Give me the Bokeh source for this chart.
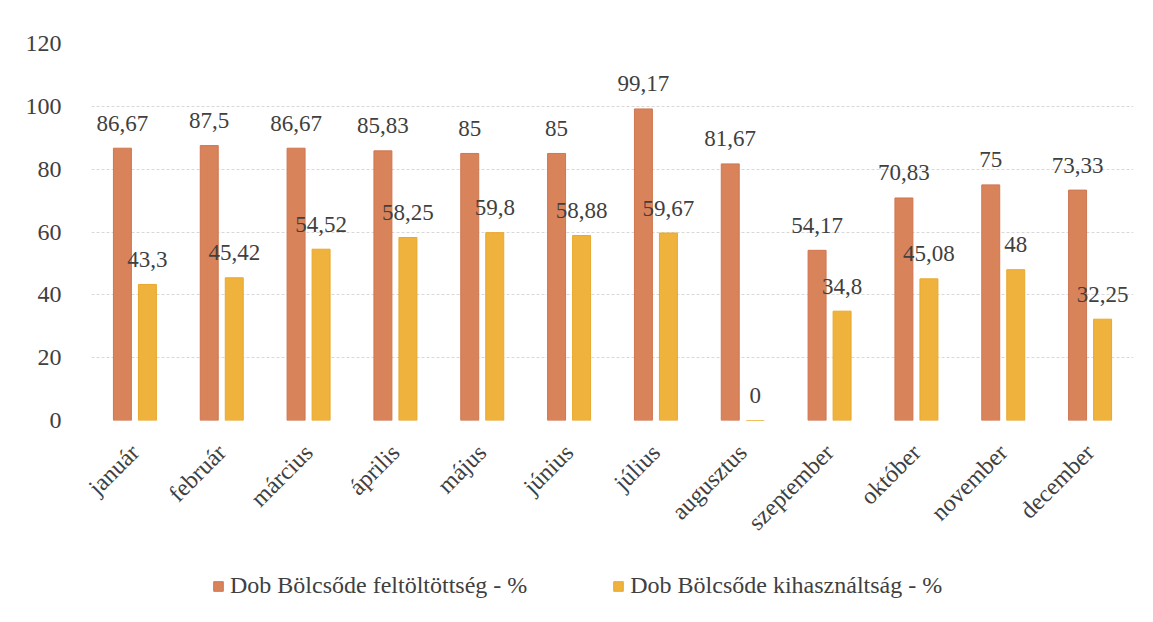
from bokeh.plotting import figure
from bokeh.models import ColumnDataSource, Range1d, FactorRange, Legend, LegendItem
from bokeh.transform import dodge
from bokeh.layouts import column
from bokeh.embed import file_html
from bokeh.resources import INLINE
import math

months = ["január", "február", "március", "április", "május", "június",
          "július", "augusztus", "szeptember", "október", "november", "december"]
feltoltottseg = [86.67, 87.5, 86.67, 85.83, 85, 85, 99.17, 81.67, 54.17, 70.83, 75, 73.33]
kihasznaltsag = [43.3, 45.42, 54.52, 58.25, 59.8, 58.88, 59.67, 0, 34.8, 45.08, 48, 32.25]
series_names = ["Dob Bölcsőde feltöltöttség - %", "Dob Bölcsőde kihasználtság - %"]
y_ticks = [0, 20, 40, 60, 80, 100, 120]

C1 = "#D9835B"
C2 = "#EFB23C"
TXT = "#404040"
FONT = "Liberation Serif"

def fmt(v):
    return f"{v:g}".replace(".", ",")

src = ColumnDataSource(dict(
    m=months, a=feltoltottseg, b=kihasznaltsag,
    la=[fmt(v) for v in feltoltottseg], lb=[fmt(v) for v in kihasznaltsag],
))

p = figure(frame_width=1042, frame_height=377, x_range=FactorRange(*months), y_range=Range1d(0, 120),
           output_backend="svg", toolbar_location=None,
           min_border_left=91, min_border_right=10, min_border_top=43, min_border_bottom=0)
p.outline_line_color = None
p.background_fill_color = "white"

p.vbar(x=dodge("m", -0.144, range=p.x_range), top="a", width=0.207, source=src,
       fill_color=C1, line_color="#CF7650", line_width=1)
p.vbar(x=dodge("m", 0.144, range=p.x_range), top="b", width=0.207, source=src,
       fill_color=C2, line_color="#E9A82E", line_width=1)

p.text(x=dodge("m", -0.144, range=p.x_range), y="a", text="la", source=src,
       text_align="center", text_baseline="alphabetic", y_offset=-25,
       text_font=FONT, text_font_size="23px", text_color=TXT)
p.text(x=dodge("m", 0.144, range=p.x_range), y="b", text="lb", source=src,
       text_align="center", text_baseline="alphabetic", y_offset=-25,
       text_font=FONT, text_font_size="23px", text_color=TXT)

p.yaxis.ticker = y_ticks
p.yaxis.axis_line_color = None
p.yaxis.major_tick_line_color = None
p.yaxis.minor_tick_line_color = None
p.yaxis.major_label_standoff = 24
p.yaxis.major_label_text_font = FONT
p.yaxis.major_label_text_font_size = "24px"
p.yaxis.major_label_text_color = TXT

p.xaxis.axis_line_color = None
p.xaxis.major_tick_line_color = None
p.xaxis.minor_tick_line_color = None
p.xaxis.major_label_orientation = math.pi / 4
p.xaxis.major_label_standoff = 22
p.xaxis.major_label_text_font = FONT
p.xaxis.major_label_text_font_size = "24px"
p.xaxis.major_label_text_color = TXT

p.xgrid.grid_line_color = None
p.ygrid.grid_line_color = "#D8D8D8"
p.ygrid.grid_line_dash = "3 2"
p.ygrid.grid_line_width = 1

# legend strip (swatch renderers sit outside the visible range)
p2 = figure(width=1143, height=60, x_range=Range1d(0, 1), y_range=Range1d(0, 1),
            output_backend="svg", toolbar_location=None, min_border=0)
p2.axis.visible = False
p2.grid.grid_line_color = None
p2.outline_line_color = None
swatch = ColumnDataSource(dict(x=[-5], top=[0]))
g1 = p2.vbar(x="x", top="top", width=0.1, source=swatch, fill_color=C1, line_color="#CF7650")
g2 = p2.vbar(x="x", top="top", width=0.1, source=swatch, fill_color=C2, line_color="#E9A82E")
legend = Legend(items=[LegendItem(label=series_names[0], renderers=[g1]),
                       LegendItem(label=series_names[1], renderers=[g2])],
                orientation="horizontal", location=(121, 8),
                label_text_font=FONT, label_text_font_size="24px", label_text_color=TXT,
                glyph_width=12, glyph_height=12, spacing=85, label_standoff=6,
                border_line_color=None, background_fill_alpha=0, margin=0, padding=2)
p2.add_layout(legend, "center")

open("out.html", "w").write(file_html(column(p, p2, spacing=0), INLINE))
